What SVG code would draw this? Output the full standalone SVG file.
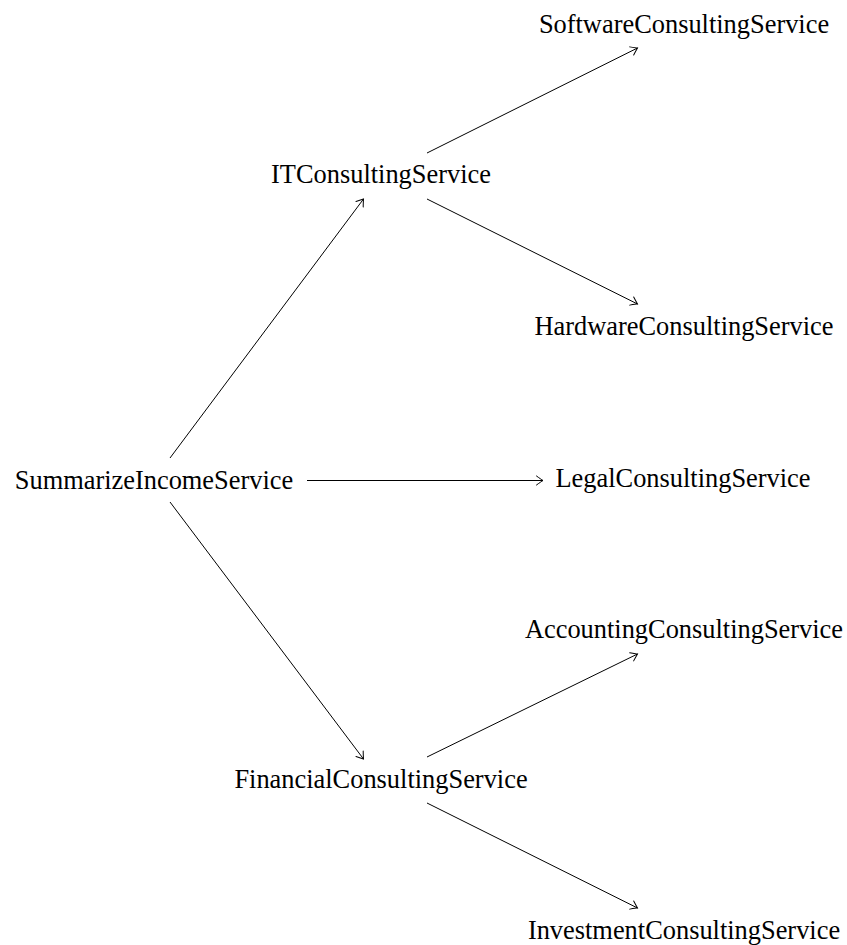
<svg xmlns="http://www.w3.org/2000/svg" width="847" height="945" viewBox="0 0 847 945">
<style>
text{font-family:"Liberation Serif","Times New Roman",serif;font-size:26.4px;fill:#000;text-anchor:middle}
.e{stroke:#000;stroke-width:1;fill:none;marker-end:url(#to)}
</style>
<defs>
<marker id="to" viewBox="-8 -6 10 12" markerWidth="10" markerHeight="12" refX="0" refY="0" orient="auto" markerUnits="userSpaceOnUse">
<path d="M-6.5,-4.5 C-4,-2.6 -1.2,-0.8 0,0 C-1.2,0.8 -4,2.6 -6.5,4.5" fill="none" stroke="#000" stroke-width="1" stroke-linecap="round"/>
</marker>
</defs>
<rect width="847" height="945" fill="#fff"/>
<g id="edges">
<line class="e" x1="170" y1="458" x2="363.5" y2="199"/>
<line class="e" x1="170" y1="502" x2="363.5" y2="759"/>
<line class="e" x1="307" y1="480.5" x2="543" y2="480.5"/>
<line class="e" x1="427" y1="153" x2="637.5" y2="48"/>
<line class="e" x1="427" y1="199" x2="637.5" y2="304"/>
<line class="e" x1="427" y1="757" x2="637.5" y2="654"/>
<line class="e" x1="427" y1="803" x2="637.5" y2="908"/>
</g>
<g id="summarize"><text x="154" y="489">SummarizeIncomeService</text></g>
<g id="it"><text x="381" y="183">ITConsultingService</text></g>
<g id="software"><text x="684" y="33">SoftwareConsultingService</text></g>
<g id="hardware"><text x="684" y="335">HardwareConsultingService</text></g>
<g id="legal"><text x="683" y="487">LegalConsultingService</text></g>
<g id="financial"><text x="381" y="788">FinancialConsultingService</text></g>
<g id="accounting"><text x="684" y="638">AccountingConsultingService</text></g>
<g id="investment"><text x="684" y="939">InvestmentConsultingService</text></g>
</svg>
